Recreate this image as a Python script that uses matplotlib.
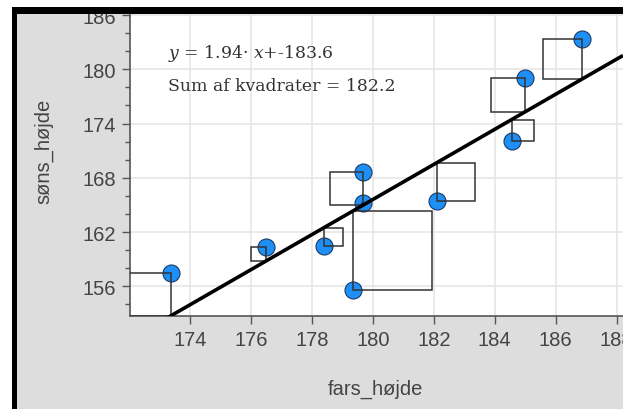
import matplotlib
matplotlib.use("Agg")
import matplotlib.pyplot as plt
from matplotlib.patches import Rectangle
import numpy as np

# Data
fars_hojde = [173.37, 176.48, 178.40, 179.36, 179.69, 179.69, 182.09, 184.56, 184.99, 186.88]
sons_hojde = [157.48, 160.34, 160.45, 155.62, 165.16, 168.69, 165.42, 172.04, 179.01, 183.35]
slope = 1.94
intercept = -183.6
sum_sq_text = "182.2"
x_ticks = [174, 176, 178, 180, 182, 184, 186, 188]
y_ticks = [156, 162, 168, 174, 180, 186]

plt.rcParams["mathtext.fontset"] = "dejavuserif"

W, H = 623, 410
fig = plt.figure(figsize=(W / 100, H / 100), dpi=100, facecolor="white")

def fx(px):
    return px / W

def fy(py):
    return 1 - py / H

# gray background
fig.patches.append(Rectangle((fx(12), 0), 1 - fx(12), fy(8), transform=fig.transFigure,
                             facecolor="#dddddd", edgecolor="none", zorder=-5))
# black frame bars (top & left)
fig.patches.append(Rectangle((fx(12), fy(14.5)), 1 - fx(12), fy(8) - fy(14.5), transform=fig.transFigure,
                             facecolor="black", edgecolor="none", zorder=10))
fig.patches.append(Rectangle((fx(12), 0), fx(17) - fx(12), fy(8), transform=fig.transFigure,
                             facecolor="black", edgecolor="none", zorder=10))

ax_left, ax_right, ax_top, ax_bottom = 130, 623, 14.5, 316.7
ax = fig.add_axes([fx(ax_left), fy(ax_bottom), fx(ax_right) - fx(ax_left), fy(ax_top) - fy(ax_bottom)])
ax.set_facecolor("white")
ax.set_zorder(1)

xmin, xmax = 172.03, 188.21
ymin, ymax = 152.75, 186.17
ax.set_xlim(xmin, xmax)
ax.set_ylim(ymin, ymax)

for s in ["top", "right"]:
    ax.spines[s].set_visible(False)
for s in ["left", "bottom"]:
    ax.spines[s].set_color("#555555")
    ax.spines[s].set_linewidth(1.2)

tick_font = {"family": "Liberation Sans"}
ax.set_xticks(x_ticks)
ax.set_yticks(y_ticks)
ax.set_yticks(np.arange(154, 187, 2), minor=True)
ax.tick_params(axis="x", length=6, width=1.0, color="#555555", labelsize=14.5, labelcolor="#444444", pad=4)
ax.tick_params(axis="y", which="major", length=6, width=1.0, color="#555555", labelsize=14.5, labelcolor="#444444", pad=4)
ax.tick_params(axis="y", which="minor", length=3.5, width=1.0, color="#555555")
for lab in ax.get_xticklabels() + ax.get_yticklabels():
    lab.set_family("Liberation Sans")

ax.grid(True, which="major", color="#e4e4e4", linewidth=1.1, zorder=0)
ax.set_axisbelow(True)

# regression line
xs = np.array([xmin, xmax])
ax.plot(xs, slope * xs + intercept, color="black", linewidth=2.6, zorder=4, solid_capstyle="butt")

# points
ax.scatter(fars_hojde, sons_hojde, s=150, color="#1e8ff5", edgecolors="#1a3a66", linewidths=0.8, zorder=3)

# residual squares (visually square)
ax_w_px = ax_right - ax_left
ax_h_px = ax_bottom - ax_top
ppx = ax_w_px / (xmax - xmin)
ppy = ax_h_px / (ymax - ymin)
for x, y in zip(fars_hojde, sons_hojde):
    yl = slope * x + intercept
    r = y - yl
    side_y = abs(r)
    side_x = side_y * ppy / ppx
    if r > 0:
        rect = Rectangle((x - side_x, yl), side_x, side_y)
    else:
        rect = Rectangle((x, y), side_x, side_y)
    rect.set_facecolor("none")
    rect.set_edgecolor("#333333")
    rect.set_linewidth(1.1)
    rect.set_zorder(3.5)
    ax.add_patch(rect)

# equation texts
ax.text((168 - ax_left) / ax_w_px, (ax_bottom - 53) / ax_h_px,
        r"$y$" + " = 1.94" + "\u00b7 " + r"$x$" + "+-183.6",
        transform=ax.transAxes, ha="left", va="center", fontsize=12.4,
        family="DejaVu Serif", color="#333333", zorder=6)
ax.text((168 - ax_left) / ax_w_px, (ax_bottom - 86) / ax_h_px,
        "Sum af kvadrater = " + sum_sq_text,
        transform=ax.transAxes, ha="left", va="center", fontsize=12.4,
        family="DejaVu Serif", color="#333333", zorder=6)

fig.text(fx(44), fy(151), "søns_højde", rotation=90, ha="center", va="center",
         fontsize=14.5, family="Liberation Sans", color="#444444")
fig.text(fx(375), fy(389), "fars_højde", ha="center", va="center",
         fontsize=14.5, family="Liberation Sans", color="#444444")

fig.savefig("out.png", dpi=100, facecolor="white")
